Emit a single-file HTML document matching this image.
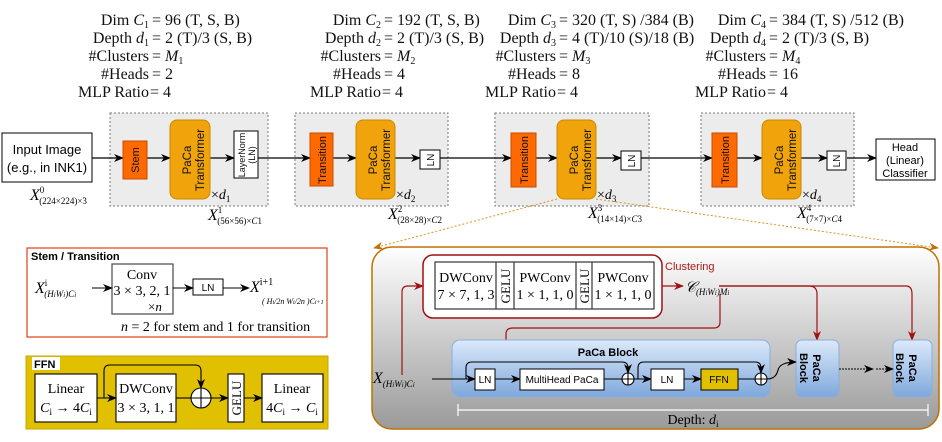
<!DOCTYPE html>
<html><head><meta charset="utf-8"><style>
html,body{margin:0;padding:0;background:#fff;}
svg{display:block;}
.s{font-family:"Liberation Serif",serif;}
.a{font-family:"Liberation Sans",sans-serif;}
</style></head><body>
<svg width="942" height="442" viewBox="0 0 942 442" xmlns="http://www.w3.org/2000/svg">
<defs>
<marker id="ar" markerWidth="10" markerHeight="8" refX="9" refY="4" orient="auto" markerUnits="userSpaceOnUse"><path d="M0,0 L10,4 L0,8 L3,4 z" fill="#000"/></marker>
<marker id="rr" markerWidth="10" markerHeight="8" refX="9" refY="4" orient="auto" markerUnits="userSpaceOnUse"><path d="M0,0 L10,4 L0,8 L3,4 z" fill="#a01010"/></marker>
<marker id="oa" markerWidth="10" markerHeight="8" refX="9" refY="4" orient="auto" markerUnits="userSpaceOnUse"><path d="M0,0 L10,4 L0,8 L3,4 z" fill="#c07000"/></marker>
<linearGradient id="gb" x1="0" y1="0" x2="0" y2="1"><stop offset="0" stop-color="#ffffff"/><stop offset="1" stop-color="#9a9a9a"/></linearGradient>
<linearGradient id="bl" x1="0" y1="0" x2="0" y2="1"><stop offset="0" stop-color="#dce9fa"/><stop offset="1" stop-color="#7fa8dc"/></linearGradient>
</defs>

<!-- top text -->
<g class="s" font-size="16" fill="#111">
<g text-anchor="end">
<text x="149" y="25">Dim <tspan font-style="italic">C</tspan><tspan font-size="10" dy="3">1</tspan></text>
<text x="149" y="43">Depth <tspan font-style="italic">d</tspan><tspan font-size="10" dy="3">1</tspan></text>
<text x="149" y="61">#Clusters</text>
<text x="149" y="79">#Heads</text>
<text x="149" y="97">MLP Ratio</text>
<text x="381" y="25">Dim <tspan font-style="italic">C</tspan><tspan font-size="10" dy="3">2</tspan></text>
<text x="381" y="43">Depth <tspan font-style="italic">d</tspan><tspan font-size="10" dy="3">2</tspan></text>
<text x="381" y="61">#Clusters</text>
<text x="381" y="79">#Heads</text>
<text x="381" y="97">MLP Ratio</text>
<text x="556" y="25">Dim <tspan font-style="italic">C</tspan><tspan font-size="10" dy="3">3</tspan></text>
<text x="556" y="43">Depth <tspan font-style="italic">d</tspan><tspan font-size="10" dy="3">3</tspan></text>
<text x="556" y="61">#Clusters</text>
<text x="556" y="79">#Heads</text>
<text x="556" y="97">MLP Ratio</text>
<text x="766" y="25">Dim <tspan font-style="italic">C</tspan><tspan font-size="10" dy="3">4</tspan></text>
<text x="766" y="43">Depth <tspan font-style="italic">d</tspan><tspan font-size="10" dy="3">4</tspan></text>
<text x="766" y="61">#Clusters</text>
<text x="766" y="79">#Heads</text>
<text x="766" y="97">MLP Ratio</text>
</g>
<text x="152" y="25">= 96 (T, S, B)</text>
<text x="152" y="43">= 2 (T)/3 (S, B)</text>
<text x="152" y="61">= <tspan font-style="italic">M</tspan><tspan font-size="10" dy="3">1</tspan></text>
<text x="152" y="79">= 2</text>
<text x="150" y="97">= 4</text>
<text x="384" y="25">= 192 (T, S, B)</text>
<text x="384" y="43">= 2 (T)/3 (S, B)</text>
<text x="384" y="61">= <tspan font-style="italic">M</tspan><tspan font-size="10" dy="3">2</tspan></text>
<text x="384" y="79">= 4</text>
<text x="382" y="97">= 4</text>
<text x="559" y="25">= 320 (T, S) /384 (B)</text>
<text x="559" y="43">= 4 (T)/10 (S)/18 (B)</text>
<text x="559" y="61">= <tspan font-style="italic">M</tspan><tspan font-size="10" dy="3">3</tspan></text>
<text x="559" y="79">= 8</text>
<text x="557" y="97">= 4</text>
<text x="769" y="25">= 384 (T, S) /512 (B)</text>
<text x="769" y="43">= 2 (T)/3 (S, B)</text>
<text x="769" y="61">= <tspan font-style="italic">M</tspan><tspan font-size="10" dy="3">4</tspan></text>
<text x="769" y="79">= 16</text>
<text x="767" y="97">= 4</text>
</g>

<!-- stage boxes -->
<g fill="#ececec" stroke="#777" stroke-dasharray="2,2">
<rect x="110" y="113" width="158" height="93"/>
<rect x="295" y="113" width="153" height="93"/>
<rect x="495" y="113" width="154" height="93"/>
<rect x="701" y="113" width="153" height="93"/>
</g>

<!-- main line -->
<g stroke="#000" stroke-width="1.2" marker-end="url(#ar)">
<line x1="92" y1="158" x2="123" y2="158"/>
<line x1="147" y1="158" x2="170" y2="158"/>
<line x1="210" y1="158" x2="234" y2="158"/>
<line x1="258" y1="158" x2="310" y2="158"/>
<line x1="333" y1="158" x2="356" y2="158"/>
<line x1="395" y1="158" x2="420" y2="158"/>
<line x1="440" y1="158" x2="511" y2="158"/>
<line x1="536" y1="158" x2="557" y2="158"/>
<line x1="596" y1="158" x2="621" y2="158"/>
<line x1="641" y1="158" x2="712" y2="158"/>
<line x1="737" y1="158" x2="762" y2="158"/>
<line x1="801" y1="158" x2="827" y2="158"/>
<line x1="847" y1="158" x2="876" y2="158"/>
</g>

<!-- input / head -->
<rect x="2" y="133" width="90" height="49" fill="#fff" stroke="#000"/>
<text class="a" x="47" y="154" font-size="13" text-anchor="middle">Input Image</text>
<text class="a" x="47" y="172" font-size="13" text-anchor="middle">(e.g., in INK1)</text>
<rect x="876" y="139" width="59" height="41" fill="#fff" stroke="#000"/>
<text class="a" x="905" y="151" font-size="11" text-anchor="middle">Head</text>
<text class="a" x="905" y="164" font-size="11" text-anchor="middle">(Linear)</text>
<text class="a" x="905" y="177" font-size="11" text-anchor="middle">Classifier</text>

<!-- orange blocks -->
<g fill="#ff6a00" stroke="#c84a00">
<rect x="123" y="141" width="24" height="38"/>
<rect x="310" y="133" width="23" height="53"/>
<rect x="511" y="133" width="25" height="54"/>
<rect x="712" y="133" width="25" height="54"/>
</g>
<g fill="#f0a30a" stroke="#c88a00">
<rect x="170" y="120" width="40" height="79" rx="7"/>
<rect x="356" y="120" width="39" height="79" rx="7"/>
<rect x="557" y="120" width="39" height="79" rx="7"/>
<rect x="762" y="120" width="39" height="79" rx="7"/>
</g>
<g fill="#fff" stroke="#000">
<rect x="234" y="131" width="24" height="47"/>
<rect x="420" y="150" width="20" height="19"/>
<rect x="621" y="151" width="20" height="19"/>
<rect x="827" y="151" width="19" height="19"/>
</g>
<g class="a" font-size="11" text-anchor="middle" fill="#111">
<text transform="translate(139,160) rotate(-90)">Stem</text>
<text transform="translate(326,160) rotate(-90)">Transition</text>
<text transform="translate(528,160) rotate(-90)">Transition</text>
<text transform="translate(729,160) rotate(-90)">Transition</text>
<text transform="translate(191,160) rotate(-90)" font-size="11.5">PaCa</text>
<text transform="translate(204,160) rotate(-90)" font-size="11.5">Transformer</text>
<text transform="translate(377,160) rotate(-90)" font-size="11.5">PaCa</text>
<text transform="translate(390,160) rotate(-90)" font-size="11.5">Transformer</text>
<text transform="translate(578,160) rotate(-90)" font-size="11.5">PaCa</text>
<text transform="translate(591,160) rotate(-90)" font-size="11.5">Transformer</text>
<text transform="translate(783,160) rotate(-90)" font-size="11.5">PaCa</text>
<text transform="translate(796,160) rotate(-90)" font-size="11.5">Transformer</text>
<text transform="translate(245,155) rotate(-90)" font-size="9">LayerNorm</text>
<text transform="translate(255,155) rotate(-90)" font-size="9">(LN)</text>
<text transform="translate(434,160) rotate(-90)" font-size="10">LN</text>
<text transform="translate(635,161) rotate(-90)" font-size="10">LN</text>
<text transform="translate(840,161) rotate(-90)" font-size="10">LN</text>
</g>
<g class="s" font-size="14">
<text x="211" y="199">×<tspan font-style="italic">d</tspan><tspan font-size="9" dy="3">1</tspan></text>
<text x="396" y="199">×<tspan font-style="italic">d</tspan><tspan font-size="9" dy="3">2</tspan></text>
<text x="597" y="199">×<tspan font-style="italic">d</tspan><tspan font-size="9" dy="3">3</tspan></text>
<text x="802" y="199">×<tspan font-style="italic">d</tspan><tspan font-size="9" dy="3">4</tspan></text>
<text x="30" y="200" font-style="italic" font-size="16">X<tspan font-size="9" dy="-7" font-style="normal">0</tspan><tspan font-size="9" dx="-5" dy="11" font-style="normal">(224×224)×3</tspan></text>
<text x="208" y="220" font-style="italic" font-size="16">X<tspan font-size="9" dy="-7" font-style="normal">1</tspan><tspan font-size="9" dx="-5" dy="11" font-style="normal">(56×56)×<tspan font-style="italic">C</tspan>1</tspan></text>
<text x="388" y="219" font-style="italic" font-size="16">X<tspan font-size="9" dy="-7" font-style="normal">2</tspan><tspan font-size="9" dx="-5" dy="11" font-style="normal">(28×28)×<tspan font-style="italic">C</tspan>2</tspan></text>
<text x="588" y="218" font-style="italic" font-size="16">X<tspan font-size="9" dy="-7" font-style="normal">3</tspan><tspan font-size="9" dx="-5" dy="11" font-style="normal">(14×14)×<tspan font-style="italic">C</tspan>3</tspan></text>
<text x="797" y="218" font-style="italic" font-size="16">X<tspan font-size="9" dy="-7" font-style="normal">4</tspan><tspan font-size="9" dx="-5" dy="11" font-style="normal">(7×7)×<tspan font-style="italic">C</tspan>4</tspan></text>
</g>

<!-- big detail box -->
<rect x="372" y="247" width="567" height="182" rx="20" fill="url(#gb)" stroke="#c07000" stroke-width="1.5"/>
<line x1="557" y1="199" x2="374" y2="248" stroke="#e09020" stroke-dasharray="2,2" marker-end="url(#oa)"/>
<line x1="596" y1="199" x2="938" y2="248" stroke="#e09020" stroke-dasharray="2,2" marker-end="url(#oa)"/>

<!-- clustering -->
<rect x="423" y="255" width="239" height="63" rx="10" fill="#fff" stroke="#a01010" stroke-width="1.5"/>
<rect x="435" y="262" width="219" height="47" fill="#fff" stroke="#333" stroke-width="1.2"/>
<g stroke="#333" stroke-width="1.2"><line x1="496" y1="262" x2="496" y2="309"/><line x1="514" y1="262" x2="514" y2="309"/><line x1="576" y1="262" x2="576" y2="309"/><line x1="592" y1="262" x2="592" y2="309"/></g>
<g class="s" font-size="14" text-anchor="middle">
<text x="466" y="282">DWConv</text><text x="466" y="299">7 × 7, 1, 3</text>
<text x="545" y="282">PWConv</text><text x="545" y="299">1 × 1, 1, 0</text>
<text x="623" y="282">PWConv</text><text x="623" y="299">1 × 1, 1, 0</text>
<text transform="translate(510,286) rotate(-90)" font-size="13">GELU</text>
<text transform="translate(589,286) rotate(-90)" font-size="13">GELU</text>
</g>
<text class="a" x="665" y="270" font-size="11" fill="#b01818">Clustering</text>
<text class="s" x="685" y="292" font-size="15" font-style="italic">𝒞<tspan font-size="9" dy="3">(H<tspan font-size="7">i</tspan>W<tspan font-size="7">i</tspan>)M<tspan font-size="7">i</tspan></tspan></text>
<g fill="none" stroke="#a01010" stroke-width="1.2">
<path d="M402,375 V292 Q402,286 408,286 H423" marker-end="url(#rr)"/>
<path d="M662,286 H683" marker-end="url(#rr)"/>
<path d="M719,286 H809 Q817,286 817,294 V340" marker-end="url(#rr)"/>
<path d="M719,286 H906 Q912,286 912,294 V340" marker-end="url(#rr)"/>
<path d="M720,294 V322 Q720,328 714,328 H513 Q506,328 506,334 V372 Q506,378 520,378" marker-end="url(#rr)"/>
</g>

<!-- PaCa block -->
<rect x="452" y="340" width="318" height="57" rx="8" fill="url(#bl)" stroke="#8aaedb"/>
<text class="a" x="608" y="356" font-size="11" font-weight="bold" text-anchor="middle">PaCa Block</text>
<rect x="796" y="340" width="43" height="57" rx="6" fill="url(#bl)" stroke="#8aaedb"/>
<rect x="893" y="340" width="39" height="57" rx="6" fill="url(#bl)" stroke="#8aaedb"/>
<g class="a" font-size="11" font-weight="bold" text-anchor="middle">
<text transform="translate(813,368) rotate(90)">PaCa</text>
<text transform="translate(800,368) rotate(90)">Block</text>
<text transform="translate(909,368) rotate(90)">PaCa</text>
<text transform="translate(896,368) rotate(90)">Block</text>
</g>
<g fill="none" stroke="#000" stroke-width="1.1">
<path d="M432,379 H475" marker-end="url(#ar)"/>
<path d="M495,379 H520" marker-end="url(#ar)"/>
<path d="M604,379 H622"/>
<path d="M634,379 H651" marker-end="url(#ar)"/>
<path d="M684,379 H701" marker-end="url(#ar)"/>
<path d="M738,379 H755"/>
<path d="M767,379 Q776,379 778,370 Q780,362 796,362" marker-end="url(#ar)"/>
<path d="M466,379 V368 Q466,362 472,362 H622 Q628,362 628,368 V373" marker-end="url(#ar)"/>
<path d="M638,379 V368 Q638,362 644,362 H755 Q761,362 761,368 V373" marker-end="url(#ar)"/>
<path d="M839,369 H873" stroke-dasharray="2,1" marker-end="url(#ar)"/>
<path d="M876,369 H893" stroke-dasharray="2,1" marker-end="url(#ar)"/>
<circle cx="628" cy="379" r="6" fill="#fff"/><path d="M622,379 H634 M628,373 V385"/>
<circle cx="761" cy="379" r="6" fill="#fff"/><path d="M755,379 H767 M761,373 V385"/>
</g>
<rect x="475" y="369" width="20" height="21" fill="#fff" stroke="#000"/>
<rect x="520" y="369" width="84" height="21" fill="#fff" stroke="#000"/>
<rect x="651" y="369" width="33" height="21" fill="#fff" stroke="#000"/>
<rect x="701" y="369" width="37" height="21" fill="#e0c000" stroke="#000"/>
<g class="a" font-size="10" text-anchor="middle">
<text x="485" y="383">LN</text><text x="562" y="383">MultiHead PaCa</text><text x="667" y="383">LN</text><text x="719" y="383">FFN</text>
</g>
<text class="s" x="373" y="383" font-size="16" font-style="italic">X<tspan font-size="9" dy="4">(H<tspan font-size="7">i</tspan>W<tspan font-size="7">i</tspan>)C<tspan font-size="7">i</tspan></tspan></text>
<g stroke="#fff" stroke-width="1.2"><line x1="458" y1="410" x2="928" y2="410"/><line x1="458" y1="404" x2="458" y2="416"/><line x1="928" y1="404" x2="928" y2="416"/></g>
<text class="s" x="693" y="424" font-size="14" text-anchor="middle">Depth: <tspan font-style="italic">d</tspan><tspan font-size="9" dy="3">i</tspan></text>

<!-- Stem / Transition -->
<rect x="27" y="248" width="300" height="89" fill="#fff" stroke="#e04010" stroke-width="1.2"/>
<text class="a" x="31" y="260" font-size="11" font-weight="bold">Stem / Transition</text>
<rect x="112" y="264" width="61" height="50" fill="#fff" stroke="#555" stroke-width="1.3"/>
<text class="s" x="142" y="279" font-size="14" text-anchor="middle">Conv</text>
<text class="s" x="142" y="295" font-size="14" text-anchor="middle">3 × 3, 2, 1</text>
<text class="s" x="148" y="311" font-size="13">×<tspan font-style="italic">n</tspan></text>
<rect x="193" y="279" width="30" height="16" fill="#fff" stroke="#000"/>
<text class="a" x="208" y="291" font-size="10" text-anchor="middle">LN</text>
<g stroke="#000" stroke-width="1.1">
<line x1="92" y1="288" x2="112" y2="288" marker-end="url(#ar)"/>
<line x1="173" y1="288" x2="193" y2="288" marker-end="url(#ar)"/>
<line x1="223" y1="288" x2="249" y2="288" marker-end="url(#ar)"/>
</g>
<text class="s" x="35" y="293" font-size="16" font-style="italic">X<tspan font-size="9" dy="-7" font-style="normal">i</tspan><tspan font-size="9" dx="-3" dy="11">(H<tspan font-size="7">i</tspan>W<tspan font-size="7">i</tspan>)C<tspan font-size="7">i</tspan></tspan></text>
<text class="s" x="250" y="292" font-size="16" font-style="italic">X<tspan font-size="10" dy="-7" font-style="normal">i+1</tspan></text>
<text class="s" x="262" y="304" font-size="8" font-style="italic">( H<tspan font-size="6">i</tspan>/2n  W<tspan font-size="6">i</tspan>/2n )C<tspan font-size="6">i+1</tspan></text>
<text class="s" x="121" y="331" font-size="14"><tspan font-style="italic">n</tspan> = 2 for stem and 1 for transition</text>

<!-- FFN -->
<rect x="26" y="356" width="302" height="73" fill="#e0c000" stroke="#c8a800"/>
<rect x="32" y="357" width="28" height="13" fill="#fff"/>
<text class="a" x="34" y="368" font-size="11" font-weight="bold">FFN</text>
<g fill="#fff" stroke="#000" stroke-width="1.1">
<rect x="35" y="374" width="62" height="48"/>
<rect x="116" y="374" width="60" height="48"/>
<rect x="228" y="374" width="16" height="48"/>
<rect x="262" y="374" width="61" height="48"/>
</g>
<g fill="none" stroke="#000" stroke-width="1.1">
<line x1="97" y1="398" x2="116" y2="398" marker-end="url(#ar)"/>
<line x1="176" y1="398" x2="191" y2="398"/>
<line x1="211" y1="398" x2="228" y2="398" marker-end="url(#ar)"/>
<line x1="244" y1="398" x2="262" y2="398" marker-end="url(#ar)"/>
<path d="M104,398 V371 Q104,365 110,365 H195 Q201,365 201,371 V388" marker-end="url(#ar)"/>
<circle cx="201" cy="398" r="10" fill="#fff"/><path d="M191,398 H211 M201,388 V408"/>
</g>
<g class="s" font-size="14" text-anchor="middle">
<text x="66" y="393">Linear</text><text x="66" y="412"><tspan font-style="italic">C</tspan><tspan font-size="9" dy="3">i</tspan><tspan dy="-3"> → 4</tspan><tspan font-style="italic">C</tspan><tspan font-size="9" dy="3">i</tspan></text>
<text x="146" y="393">DWConv</text><text x="146" y="412">3 × 3, 1, 1</text>
<text x="292" y="393">Linear</text><text x="292" y="412">4<tspan font-style="italic">C</tspan><tspan font-size="9" dy="3">i</tspan><tspan dy="-3"> → </tspan><tspan font-style="italic">C</tspan><tspan font-size="9" dy="3">i</tspan></text>
<text transform="translate(241,398) rotate(-90)" font-size="13">GELU</text>
</g>
</svg>
</body></html>
